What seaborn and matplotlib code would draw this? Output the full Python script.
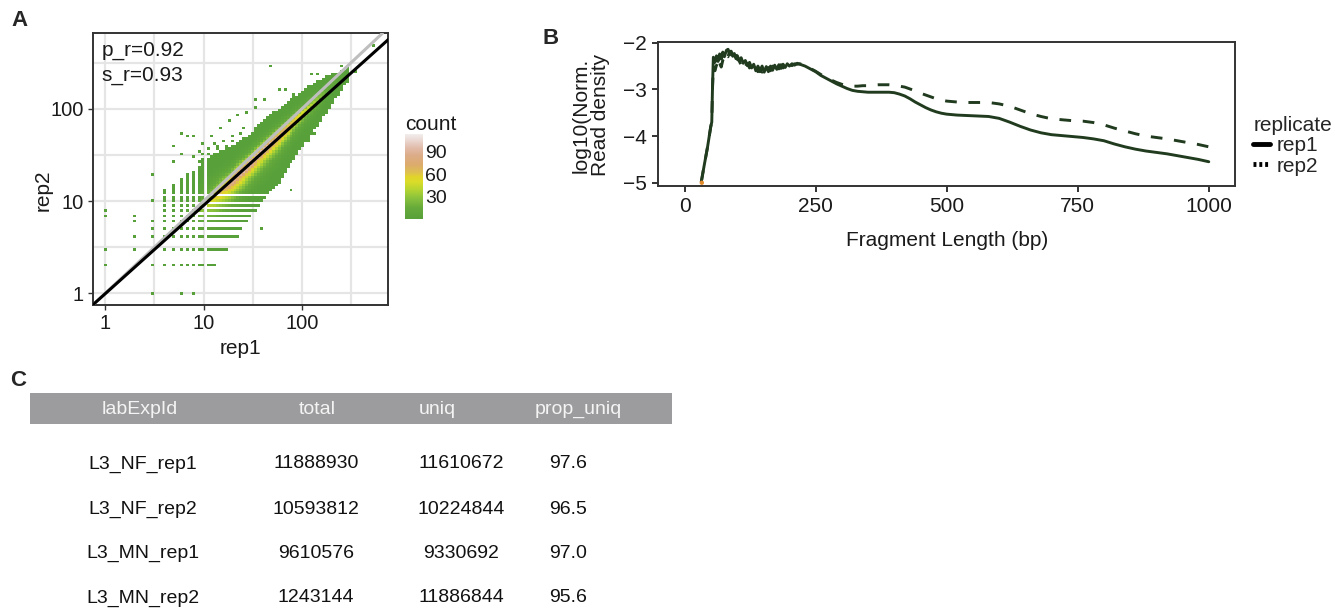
import numpy as np
import pandas as pd
import matplotlib
matplotlib.use("Agg")
import matplotlib.pyplot as plt
import seaborn as sns
from matplotlib.colors import LinearSegmentedColormap
from matplotlib.lines import Line2D
from matplotlib.patches import Rectangle

sns.set_theme(style="white")
plt.rcParams['font.family'] = ['Liberation Sans', 'DejaVu Sans']

# ---------------- Panel A: rep1 vs rep2 read counts (binned) ----------------
# dense band: for each rep1 anchor, rep2 extent, ridge and peak bin count
band_rep1 = [4, 6, 8, 10, 13, 17, 22, 30, 40, 55, 75, 100, 140, 190, 250, 290]
band_lo   = [2, 2, 2, 2, 2, 3, 4, 7, 10, 15, 25, 40, 65, 110, 170, 210]
band_hi   = [14, 17, 22, 28, 32, 36, 42, 52, 70, 92, 118, 148, 188, 228, 250, 265]
band_mid  = [4, 5.5, 7, 8.5, 11, 14.5, 19, 26, 35, 48, 66, 88, 125, 170, 225, 255]
band_peak = [3, 8, 15, 35, 60, 85, 105, 112, 108, 100, 80, 60, 40, 18, 6, 2]

# isolated single-count cells
sparse_rep1 = [1, 1, 1, 1, 2, 2, 2, 2, 3, 3, 3, 3, 3, 3, 3, 3, 6, 8, 5, 6, 7, 8, 5, 6,
               10, 12, 15, 18, 22, 26, 27, 35, 35, 42, 47, 60, 67, 81, 107, 125, 146,
               243, 347, 530, 78, 208, 216, 39, 120, 135,
               8, 9, 10, 11, 12, 13, 14, 16, 17, 19, 20, 24, 9, 11, 14]
sparse_rep2 = [8, 7, 3, 2, 7, 6, 4, 3, 20, 10, 6, 5, 4, 3, 2, 1, 1, 1, 39, 55, 50, 50, 26, 32,
               43, 50, 61, 73, 83, 61, 94, 130, 101, 125, 300, 158, 160, 142, 167, 240, 240,
               300, 254, 495, 13, 148, 175, 5, 46, 54,
               30, 35, 32, 38, 30, 42, 36, 45, 40, 50, 44, 55, 26, 33, 39]

pearson_r = 0.92
spearman_r = 0.93
fit_intercept = -0.004   # log10 space
fit_slope = 0.957

count_ticks = [30, 60, 90]
count_range = [1, 113]

# ---------------- Panel B: fragment length density ----------------
frag_len = [32, 38, 44, 50, 52, 53.5, 55, 58, 61, 64, 67, 70, 73, 76, 80, 83, 86, 89, 92, 95, 98,
            101, 104, 108, 112, 116, 120, 124, 128, 132, 136, 140, 144, 148, 152, 156, 160, 164,
            168, 172, 176, 180, 184, 188, 192, 196, 200, 205, 210, 215, 220, 230, 240, 250, 260,
            270, 280, 290, 300, 310, 320, 330, 340, 350, 360, 370, 380, 390, 400, 410, 420, 430,
            440, 450, 460, 470, 480, 490, 500, 520, 540, 560, 580, 600, 620, 640, 660, 680, 700,
            720, 740, 760, 780, 800, 820, 840, 860, 880, 900, 920, 940, 960, 980, 1000]
rep1_density = [-4.98, -4.60, -4.23, -3.80, -3.70, -2.90, -2.31,
                -2.42, -2.28, -2.40, -2.24, -2.35, -2.20, -2.30,
                -2.16, -2.14, -2.24, -2.18, -2.29, -2.23, -2.34,
                -2.28, -2.39, -2.32, -2.44, -2.38, -2.49, -2.42,
                -2.54, -2.46, -2.60, -2.50, -2.62, -2.50, -2.63,
                -2.51, -2.62, -2.50, -2.59, -2.48, -2.57, -2.47,
                -2.55, -2.46, -2.53, -2.45, -2.50, -2.45, -2.48,
                -2.44, -2.46, -2.50, -2.56, -2.62, -2.70, -2.76,
                -2.82, -2.88, -2.93, -2.98, -3.02, -3.04, -3.05,
                -3.06, -3.06, -3.06, -3.06, -3.06, -3.07, -3.10,
                -3.14, -3.20, -3.27, -3.33, -3.39, -3.44, -3.48,
                -3.51, -3.53, -3.55, -3.56, -3.57, -3.58, -3.62,
                -3.70, -3.79, -3.87, -3.93, -3.97, -3.99, -4.01,
                -4.03, -4.06, -4.10, -4.17, -4.23, -4.28, -4.32,
                -4.35, -4.38, -4.42, -4.46, -4.50, -4.55]
rep2_density = [-4.98, -4.60, -4.23, -3.80, -3.70, -2.95, -2.50,
                -2.60, -2.48, -2.59, -2.44, -2.52, -2.38, -2.44,
                -2.28, -2.30, -2.18, -2.26, -2.18, -2.30, -2.24,
                -2.36, -2.37, -2.49, -2.40, -2.50, -2.44, -2.54,
                -2.48, -2.59, -2.53, -2.62, -2.54, -2.63, -2.53,
                -2.62, -2.53, -2.60, -2.50, -2.58, -2.48, -2.56,
                -2.47, -2.54, -2.46, -2.52, -2.45, -2.49, -2.45,
                -2.46, -2.45, -2.49, -2.55, -2.61, -2.68, -2.74,
                -2.80, -2.85, -2.89, -2.92, -2.93, -2.93, -2.92,
                -2.92, -2.91, -2.90, -2.90, -2.90, -2.91, -2.93,
                -2.95, -2.99, -3.03, -3.08, -3.12, -3.16, -3.20,
                -3.23, -3.25, -3.27, -3.28, -3.28, -3.28, -3.31,
                -3.36, -3.44, -3.52, -3.58, -3.63, -3.65, -3.67,
                -3.68, -3.71, -3.76, -3.83, -3.89, -3.95, -4.00,
                -4.03, -4.06, -4.10, -4.14, -4.18, -4.23]
start_len = [33]
start_density = [-5.0]

# ---------------- Panel C: table ----------------
table_cols = ["labExpId", "total", "uniq", "prop_uniq"]
lab_exp_id = ["L3_NF_rep1", "L3_NF_rep2", "L3_MN_rep1", "L3_MN_rep2"]
total_reads = [11888930, 10593812, 9610576, 1243144]
uniq_reads = [11610672, 10224844, 9330692, 11886844]
prop_uniq = [97.6, 96.5, 97.0, 95.6]

# ============================================================================
W, H = 1335, 614
fig = plt.figure(figsize=(W / 100, H / 100), dpi=100)
fig.patch.set_facecolor("white")


def fx(px):
    return px / W


def fy(py):
    return 1 - py / H


# ---- build binned cells for panel A ----
wx, wy = 0.03, 0.028
x0, y0 = -0.015, -0.014
ints = np.arange(1, 800)
ix = np.floor((np.log10(ints) - x0) / wx).astype(int)
iy = np.floor((np.log10(ints) - y0) / wy).astype(int)
_, invx, cntx = np.unique(ix, return_inverse=True, return_counts=True)
_, invy, cnty = np.unique(iy, return_inverse=True, return_counts=True)
nx = dict(zip(ints, cntx[invx]))
ny = dict(zip(ints, cnty[invy]))

lb = np.log10(band_rep1)
r1, r2, wts = [], [], []
for a in range(band_rep1[0], band_rep1[-1] + 1):
    la = np.log10(a)
    lo = 10 ** np.interp(la, lb, np.log10(band_lo))
    hi = 10 ** np.interp(la, lb, np.log10(band_hi))
    mid = 10 ** np.interp(la, lb, np.log10(band_mid))
    pk = np.interp(la, lb, band_peak)
    bs = np.arange(int(np.ceil(lo)), int(np.floor(hi)) + 1)
    lbv = np.log10(bs)
    lm = np.log10(mid)
    d = np.where(lbv >= lm, (lbv - lm) / max(np.log10(hi / mid), 1e-6),
                 (lm - lbv) / max(np.log10(mid / lo), 1e-6))
    c = 1 + (pk - 1) * np.clip(1 - d, 0, 1) ** 4
    for b, cv in zip(bs, c):
        r1.append(a)
        r2.append(b)
        wts.append(cv / (nx[a] * ny[b]))
r1 += sparse_rep1
r2 += sparse_rep2
wts += [1.0] * len(sparse_rep1)
cells = pd.DataFrame({"rep1": r1, "rep2": r2, "n": wts})

count_cmap = LinearSegmentedColormap.from_list("count", [
    (0.00, "#58a03a"), (0.13, "#66aa3b"), (0.25, "#8cc33c"), (0.35, "#b8d530"),
    (0.44, "#dcdc28"), (0.50, "#e2d22c"), (0.55, "#dec050"), (0.64, "#dcab6c"),
    (0.75, "#dcac88"), (0.84, "#e2bcaa"), (0.93, "#ead8d2"), (1.00, "#f2eded")])

axA = fig.add_axes([fx(92.7), fy(305), fx(388.3) - fx(92.7), fy(33.3) - fy(305)])
cax = fig.add_axes([fx(405), fy(219), fx(422.7) - fx(405), fy(134) - fy(219)])

sns.histplot(data=cells, x="rep1", y="rep2", weights="n", log_scale=True,
             binwidth=(wx, wy), binrange=((x0, x0 + wx * 98), (y0, y0 + wy * 101)),
             cmap=count_cmap, vmin=count_range[0], vmax=count_range[1],
             cbar=True, cbar_ax=cax, ax=axA)

axA.axline((1, 1), (100, 100), color="#BEBEBE", lw=2.2, zorder=3)
axA.axline((1, 10 ** fit_intercept), (100, 10 ** (fit_intercept + 2 * fit_slope)),
           color="black", lw=2.2, zorder=4)

axA.set_xlim(10 ** -0.128, 10 ** 2.88)
axA.set_ylim(10 ** -0.127, 10 ** 2.82)
major = [1, 10, 100]
minor = [10 ** 0.5, 10 ** 1.5, 10 ** 2.5]
axA.set_xticks(major)
axA.set_xticklabels(["1", "10", "100"])
axA.set_yticks(major)
axA.set_yticklabels(["1", "10", "100"])
axA.set_xticks(minor, minor=True)
axA.set_yticks(minor, minor=True)
axA.set_xticklabels([], minor=True)
axA.set_yticklabels([], minor=True)
axA.set_axisbelow(True)
axA.grid(True, which="both", color="#E5E5E5", lw=1.6)
axA.tick_params(which="major", direction="out", length=3.6, width=1.0, color="#333333",
                labelsize=14.5, labelcolor="#1a1a1a", pad=3, bottom=True, left=True)
axA.tick_params(which="minor", length=0)
for s in axA.spines.values():
    s.set_visible(True)
    s.set_color("#333333")
    s.set_linewidth(1.4)
axA.set_xlabel("rep1", fontsize=15, color="#1a1a1a")
axA.set_ylabel("rep2", fontsize=15, color="#1a1a1a")
axA.xaxis.set_label_coords(0.5, (305 - 348) / 271.7)
axA.xaxis.label.set_va("center")
axA.yaxis.set_label_coords((43 - 92.7) / 295.6, (305 - 190) / 271.7)
axA.yaxis.label.set_va("center")
axA.text(0.031, 0.938, f"p_r={pearson_r:.2f}", transform=axA.transAxes, fontsize=15,
         va="center", ha="left", color="#1a1a1a")
axA.text(0.031, 0.843, f"s_r={spearman_r:.2f}", transform=axA.transAxes, fontsize=15,
         va="center", ha="left", color="#1a1a1a")

cbar = axA.collections[0].colorbar
cbar.outline.set_visible(False)
cbar.set_ticks(count_ticks)
cbar.set_ticklabels([str(t) for t in count_ticks])
cax.minorticks_off()
cax.tick_params(which="major", direction="in", length=4, width=1.3, color="white",
                left=True, right=True, labelleft=False, labelright=True,
                labelsize=14, pad=2, labelcolor="#1a1a1a")
fig.text(fx(405), fy(125), "count", fontsize=15, va="center", ha="left", color="#1a1a1a")

# ---- panel B ----
dens = pd.DataFrame({
    "length": frag_len + frag_len,
    "density": rep1_density + rep2_density,
    "replicate": ["rep1"] * len(frag_len) + ["rep2"] * len(frag_len),
})
axB = fig.add_axes([fx(658.3), fy(186), fx(1235) - fx(658.3), fy(42.3) - fy(186)])
sns.lineplot(data=dens, x="length", y="density", style="replicate",
             dashes={"rep1": "", "rep2": (4, 4)}, color="#213b1f", lw=2.1,
             estimator=None, sort=False, legend=False, ax=axB)
sns.scatterplot(x=start_len, y=start_density, color="#e08a2c", s=10, edgecolor="none",
                ax=axB, zorder=5)
axB.set_xlim(-50, 1050)
axB.set_ylim(-5.07, -1.99)
axB.set_xticks([0, 250, 500, 750, 1000])
axB.set_yticks([-5, -4, -3, -2])
axB.grid(False)
for s in axB.spines.values():
    s.set_visible(True)
    s.set_color("#333333")
    s.set_linewidth(1.4)
axB.tick_params(direction="out", length=4, width=1.4, color="#333333", labelsize=15,
                labelcolor="#1a1a1a", pad=4, bottom=True, left=True)
axB.set_xlabel("Fragment Length (bp)", fontsize=15, color="#1a1a1a")
axB.set_ylabel("log10(Norm.\nRead density", fontsize=15, color="#1a1a1a", linespacing=1.05)
axB.xaxis.set_label_coords(0.5, (186 - 240) / 143.7)
axB.xaxis.label.set_va("center")
axB.yaxis.set_label_coords((591 - 658.3) / 576.7, (186 - 115) / 143.7)
axB.yaxis.label.set_va("center")

handles = [Line2D([], [], color="black", lw=3.5, ls="-"),
           Line2D([], [], color="black", lw=3.5, ls=(0, (0.6, 0.6)))]
fig.legend(handles, ["rep1", "rep2"], title="replicate", loc="upper left",
           bbox_to_anchor=(fx(1243), fy(106)), frameon=False, fontsize=15,
           title_fontsize=15, handlelength=0.8, handletextpad=0.3, labelspacing=0.05,
           borderpad=0, alignment="left")

# ---- panel C: table ----
fig.add_artist(Rectangle((fx(30), fy(424)), fx(672) - fx(30), fy(393) - fy(424),
                         transform=fig.transFigure, facecolor="#9c9c9e", edgecolor="none"))
header_x = [140, 317, 437, 578]
cell_x = [143, 316, 461, 568]
row_y = [464, 509, 553, 598]
for hx, name in zip(header_x, table_cols):
    fig.text(fx(hx), fy(409), name, fontsize=14, color="#f4f4f4", ha="center", va="center")
for i, yy in enumerate(row_y):
    vals = [lab_exp_id[i], str(total_reads[i]), str(uniq_reads[i]), f"{prop_uniq[i]:.1f}"]
    for cx, v in zip(cell_x, vals):
        fig.text(fx(cx), fy(yy), v, fontsize=14, color="#111111", ha="center", va="center")

# ---- panel letters ----
fig.text(fx(11), fy(20), "A", fontsize=16, fontweight="bold", va="center", ha="left")
fig.text(fx(543), fy(38), "B", fontsize=16, fontweight="bold", va="center", ha="left")
fig.text(fx(10), fy(381), "C", fontsize=16, fontweight="bold", va="center", ha="left")

fig.savefig("out.png", dpi=100)
